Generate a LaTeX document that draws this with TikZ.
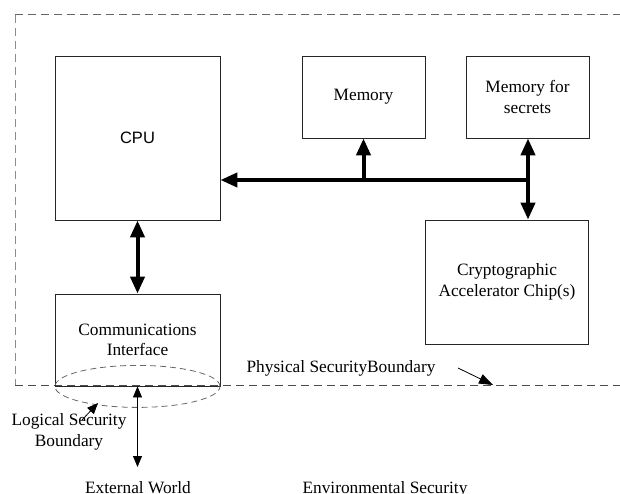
\documentclass[tikz,border=0pt]{standalone}
\usepackage{fontspec}
\setmainfont{Liberation Serif}
\newfontfamily\armfont{Liberation Sans}
\usetikzlibrary{arrows.meta}

\tikzset{
  box/.style={draw=black!85, line width=0.8pt, fill=none, align=center,
    inner sep=0pt, font=\fontsize{17.3}{20.5}\selectfont},
  bus/.style={line width=4pt, draw=black},
  bighead/.tip={Triangle[length=17pt, width=14pt]},
  smallhead/.tip={Triangle[length=11pt, width=9pt]},
  thinline/.style={line width=0.8pt, draw=black},
  boundary/.style={dash pattern=on 8pt off 5pt, line width=1pt},
  lbl/.style={font=\fontsize{17.3}{20.5}\selectfont, align=center, inner sep=0pt}
}

\begin{document}
\begin{tikzpicture}[x=1pt, y=-1pt]
\useasboundingbox (0,0) rectangle (620,494);

% physical security boundary
\draw[boundary, draw=black!45] (15,15) -- (15,385);
\draw[boundary, draw=black!60] (15,15) -- (620,15);
\draw[boundary, draw=black!70] (15,385) -- (620,385);

% component boxes
\node[box, minimum width=165pt, minimum height=164pt, font=\armfont\fontsize{16.5}{20}\selectfont]
  (cpu) at (137.5,138) {CPU};
\node[box, minimum width=123pt, minimum height=82pt] (mem) at (363.5,97) {Memory};
\node[box, minimum width=123pt, minimum height=82pt] (sec) at (527.5,97) {Memory for\\secrets};
\node[box, minimum width=163pt, minimum height=124pt] (crypto) at (507,282)
  {Cryptographic\\Accelerator Chip(s)};
\node[box, minimum width=165pt, minimum height=92pt] (comms) at (137.5,340)
  {Communications\\Interface};

% logical security boundary
\draw[boundary, dash pattern=on 6pt off 4pt, line width=0.8pt, draw=black!60]
  (comms.south) ellipse [x radius=82.5pt, y radius=21pt];

% system bus
\coordinate (jm) at (mem.south |- 0,180);
\coordinate (js) at (528,180);
\draw[bus, -bighead] (js) -- (cpu.east |- js);
\draw[bus, -bighead] (jm) -- (mem.south);
\draw[bus, -bighead] (js) -- (js |- sec.south);
\draw[bus, -bighead] (js) -- (js |- crypto.north);
\draw[bus, bighead-bighead] (cpu.south) -- (comms.north);

% link to the outside
\node[lbl, anchor=base] (ext) at (138,493) {External World};
\coordinate (extend) at (137.5,467);
\draw[thinline, smallhead-smallhead] (comms.south) -- (extend);

\node[lbl, anchor=base] (env) at (385,493) {Environmental Security};

% boundary labels
\node[lbl] (logical) at (69,432) {Logical Security\\Boundary};
\coordinate (logfrom) at (82,420);
\coordinate (logto) at (98,403);
\draw[thinline, -smallhead] (logfrom) -- (logto);

\node[lbl] (phys) at (341,368) {Physical SecurityBoundary};
\coordinate (physfrom) at (458,368);
\coordinate (physto) at (493,385);
\draw[thinline, -{Triangle[length=14pt, width=10pt]}] (physfrom) -- (physto);
\end{tikzpicture}
\end{document}
